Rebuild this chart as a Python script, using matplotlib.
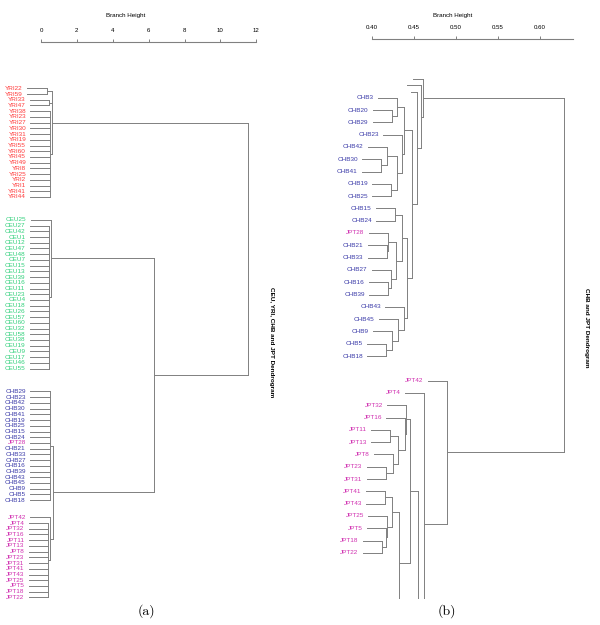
import matplotlib
matplotlib.use("Agg")
import matplotlib.pyplot as plt

plt.rcParams["font.family"] = ["Liberation Sans", "DejaVu Sans"]

# ---------------- data ----------------
yri_leaves = ["YRI22", "YRI59", "YRI33", "YRI47", "YRI38", "YRI23", "YRI27", "YRI30", "YRI31", "YRI19",
              "YRI55", "YRI60", "YRI45", "YRI49", "YRI8", "YRI25", "YRI2", "YRI1", "YRI41", "YRI44"]
ceu_leaves = ["CEU25", "CEU27", "CEU42", "CEU1", "CEU12", "CEU47", "CEU48", "CEU7", "CEU15", "CEU13",
              "CEU39", "CEU16", "CEU11", "CEU23", "CEU4", "CEU18", "CEU26", "CEU57", "CEU60", "CEU32",
              "CEU58", "CEU38", "CEU19", "CEU9", "CEU17", "CEU46", "CEU55"]
chb_leaves = ["CHB29", "CHB23", "CHB42", "CHB30", "CHB41", "CHB19", "CHB25", "CHB15", "CHB24", "JPT28",
              "CHB21", "CHB33", "CHB27", "CHB16", "CHB39", "CHB43", "CHB45", "CHB9", "CHB5", "CHB18"]
jpt_leaves = ["JPT42", "JPT4", "JPT32", "JPT16", "JPT11", "JPT13", "JPT8", "JPT23", "JPT31", "JPT41",
              "JPT43", "JPT25", "JPT5", "JPT18", "JPT22"]

# merges: (name, children, height)
left_nodes = [
    ("yA", ["YRI22", "YRI59"], 0.32),
    ("yB", ["YRI33", "YRI47"], 0.46),
    ("yC", yri_leaves[4:], 0.50),
    ("yri", ["yA", "yB", "yC"], 0.59),
    ("cR", ceu_leaves[1:], 0.46),
    ("ceu", ["CEU25", "cR"], 0.53),
    ("chb", chb_leaves, 0.48),
    ("jR", jpt_leaves[1:], 0.41),
    ("jpt", ["JPT42", "jR"], 0.50),
    ("asia", ["chb", "jpt"], 0.67),
    ("nonyri", ["ceu", "asia"], 6.30),
    ("root", ["yri", "nonyri"], 11.52),
]
left_gaps = {"YRI44": 3, "CEU55": 3, "CHB18": 2}

right_nodes = [
    ("c1", ["CHB20", "CHB29"], 0.4238),
    ("c2", ["CHB3", "c1"], 0.4298),
    ("c4", ["CHB30", "CHB41"], 0.4111),
    ("c5", ["CHB42", "c4"], 0.4179),
    ("c6", ["CHB19", "CHB25"], 0.4230),
    ("c7", ["c5", "c6"], 0.4298),
    ("cQ", ["CHB23", "c7"], 0.4364),
    ("cK", ["c2", "cQ"], 0.4388),
    ("c9", ["CHB15", "CHB24"], 0.4277),
    ("c10", ["CHB21", "CHB33"], 0.4179),
    ("c11", ["JPT28", "c10"], 0.4190),
    ("c12", ["CHB16", "CHB39"], 0.4194),
    ("c13", ["CHB27", "c12"], 0.4226),
    ("c14", ["c11", "c13"], 0.4286),
    ("c15", ["c9", "c14"], 0.4361),
    ("c16", ["CHB5", "CHB18"], 0.4170),
    ("c17", ["CHB9", "c16"], 0.4242),
    ("c18", ["CHB45", "c17"], 0.4310),
    ("c19", ["CHB43", "c18"], 0.4385),
    ("c20", ["c15", "c19"], 0.4417),
    ("cT", ["cK", "c20"], 0.4476),
    ("cS", ["_u3", "cT"], 0.4536),
    ("cR", ["_u2", "cS"], 0.4583),
    ("chb", ["_u1", "cR"], 0.4615),
    ("j1", ["JPT11", "JPT13"], 0.4218),
    ("j2", ["JPT23", "JPT31"], 0.4167),
    ("j3", ["JPT8", "j2"], 0.4257),
    ("j4", ["j1", "j3"], 0.4317),
    ("j5", ["JPT16", "j4"], 0.4400),
    ("j6", ["JPT32", "j5"], 0.4408),
    ("j7", ["JPT41", "JPT43"], 0.4158),
    ("j8", ["JPT18", "JPT22"], 0.4119),
    ("j9", ["JPT5", "j8"], 0.4170),
    ("j10", ["JPT25", "j9"], 0.4186),
    ("j11", ["j7", "j10"], 0.4245),
    ("jY", ["j11", "_w"], 0.4329),
    ("jX", ["j6", "jY"], 0.4456),
    ("j12", ["jX", "_z"], 0.4556),
    ("j13", ["JPT4", "j12"], 0.4624),
    ("jpt", ["JPT42", "j13"], 0.4893),
    ("root", ["chb", "jpt"], 0.6293),
]
# unlabelled (collapsed / cut off) branches, with their own heights
right_leaf_heights = {"_u1": 0.4492, "_u2": 0.4420, "_u3": 0.4468, "_w": 0.4250, "_z": 0.4450}
right_gaps = {"_u1": -0.5, "_u2": -0.5, "_u3": -0.5, "CHB18": 1, "JPT22": 3.9, "_w": 15.8}

pop_colors = {"YRI": "#ff3a3a", "CEU": "#2fd07a", "CHB": "#3a3aa8", "JPT": "#d02fb0"}
LINE = "#808080"
W, H = 600, 625


def draw_tree(ax, nodes, hang, gaps, leaf_heights={}):
    kids = {n: (ch, h) for n, ch, h in nodes}
    order = []

    def walk(n):
        if n in kids:
            for c in kids[n][0]:
                walk(c)
        else:
            order.append(n)
    walk(nodes[-1][0])

    pos, y = {}, 0.0
    for i, leaf in enumerate(order):
        if i:
            y += 1 + gaps.get(order[i - 1], 0)
        pos[leaf] = y

    for n, ch, h in nodes:
        pos[n] = (pos[ch[0]] + pos[ch[-1]]) / 2

    for n, ch, h in nodes:
        ax.plot([h, h], [pos[ch[0]], pos[ch[-1]]], color=LINE, lw=0.7)
        for c in ch:
            if c in kids:
                start = kids[c][1]
            else:
                start = leaf_heights.get(c, h - hang)
            ax.plot([start, h], [pos[c], pos[c]], color=LINE, lw=0.7)
            if c not in kids and not c.startswith("_"):
                ax.annotate(c, (start, pos[c]), xytext=(-3, 0), textcoords="offset points",
                            ha="right", va="center", fontsize=4.6, color=pop_colors[c[:3]])


def make_panel(fig, box, xref, xpx, xscale, ypx, yscale):
    left, top, right, bottom = box
    ax = fig.add_axes([left / W, 1 - bottom / H, (right - left) / W, (bottom - top) / H])
    ax.set_xlim(xref + (left - xpx) / xscale, xref + (right - xpx) / xscale)
    ax.set_ylim((bottom - ypx) / yscale, (top - ypx) / yscale)
    for s in ["left", "right", "bottom"]:
        ax.spines[s].set_visible(False)
    ax.spines["top"].set_color(LINE)
    ax.spines["top"].set_linewidth(0.8)
    ax.xaxis.tick_top()
    ax.set_yticks([])
    ax.tick_params(axis="x", direction="out", length=2.5, width=0.7, color=LINE,
                   labelsize=4.4, pad=4)
    return ax


fig = plt.figure(figsize=(6, 6.25), dpi=100)

ax1 = make_panel(fig, (0, 41.7, 300, 605), 0, 41, 17.94, 88.3, 5.72)
draw_tree(ax1, left_nodes, 1.1, left_gaps)
ax1.set_xticks([0, 2, 4, 6, 8, 10, 12])
ax1.spines["top"].set_bounds(0, 12)

ax2 = make_panel(fig, (300, 39.3, 600, 599), 0.40, 371.7, 840, 79.25, 12.3)
draw_tree(ax2, right_nodes, 0.0226, right_gaps, right_leaf_heights)
ax2.set_xticks([0.40, 0.45, 0.50, 0.55, 0.60])
ax2.set_xticklabels(["0.40", "0.45", "0.50", "0.55", "0.60"])
ax2.spines["top"].set_bounds(0.40, 0.64)

fig.text(126 / W, 1 - 15.7 / H, "Branch Height", ha="center", va="center", fontsize=4.5)
fig.text(452.7 / W, 1 - 15.7 / H, "Branch Height", ha="center", va="center", fontsize=4.5)
fig.text(271.7 / W, 1 - 342 / H, "CEU, YRI, CHB and JPT Dendrogram", rotation=-90,
         ha="center", va="center", fontsize=4.6, fontweight="bold")
fig.text(586.7 / W, 1 - 328 / H, "CHB and JPT Dendrogram", rotation=-90,
         ha="center", va="center", fontsize=4.6, fontweight="bold")
fig.text(146 / W, 1 - 611 / H, "(a)", ha="center", va="center", fontsize=10, family="cmr10")
fig.text(447 / W, 1 - 611 / H, "(b)", ha="center", va="center", fontsize=10, family="cmr10")

fig.savefig("out.png", dpi=100)
